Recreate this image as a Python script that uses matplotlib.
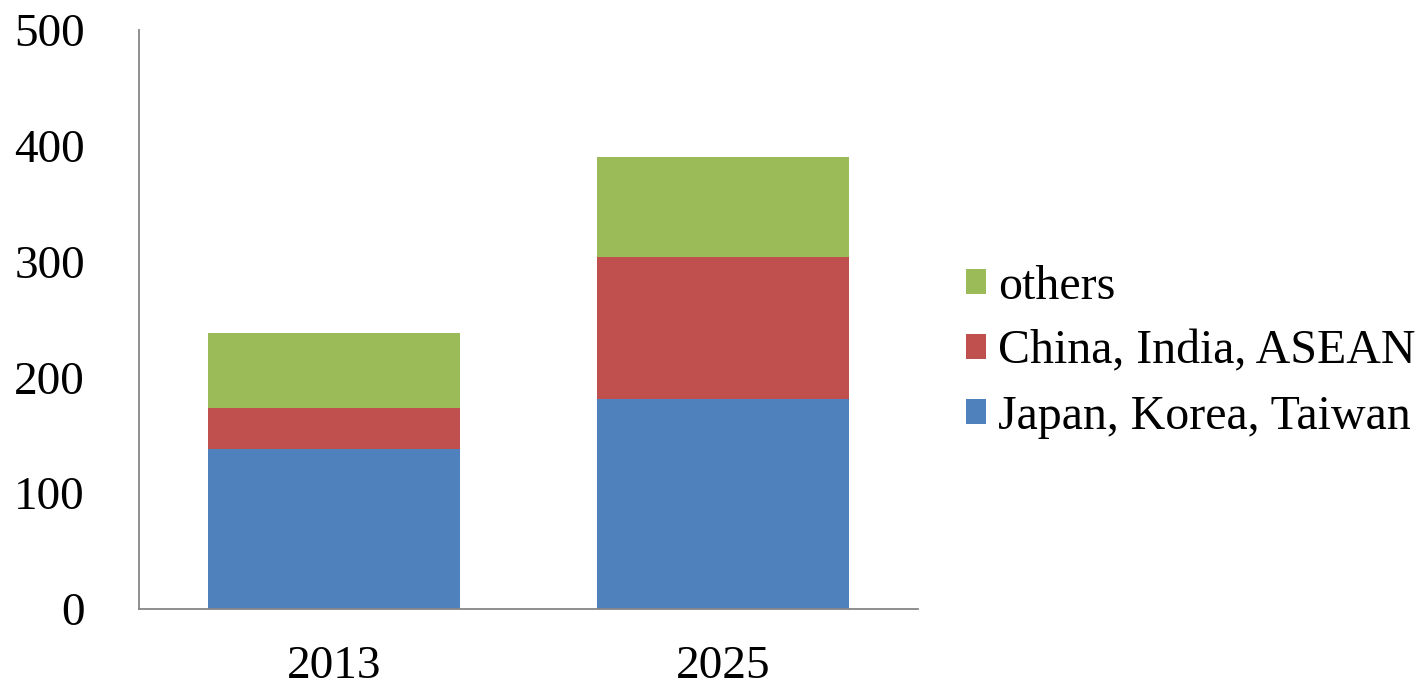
import numpy as np
import matplotlib.pyplot as plt

years = ["2013", "2025"]
japan_korea_taiwan = [138, 181]
china_india_asean = [35.5, 123]
others = [64.5, 86]

COLORS = {"jkt": "#4F81BD", "cia": "#C0504D", "oth": "#9BBB59"}

plt.rcParams.update({
    "font.family": ["Liberation Serif", "DejaVu Serif"],
    "font.size": 34,
})

fig = plt.figure(figsize=(14.27, 6.86), dpi=100)
ax = fig.add_axes([0.0974, 0.1122, 0.546, 0.8441])

x = np.arange(len(years))
w = 0.647
b1 = ax.bar(x, japan_korea_taiwan, w, color=COLORS["jkt"], edgecolor="none",
            label="Japan, Korea, Taiwan")
bottom2 = np.array(japan_korea_taiwan)
b2 = ax.bar(x, china_india_asean, w, bottom=bottom2, color=COLORS["cia"],
            edgecolor="none", label="China, India, ASEAN")
bottom3 = bottom2 + np.array(china_india_asean)
b3 = ax.bar(x, others, w, bottom=bottom3, color=COLORS["oth"],
            edgecolor="none", label="others")

ax.set_xlim(-0.5, 1.5)
ax.set_ylim(0, 500)
ax.set_yticks(range(0, 501, 100))
ax.set_xticks(x)
ax.set_xticklabels(years)
ax.tick_params(axis="y", length=0, pad=39)
ax.tick_params(axis="x", length=0, pad=26)
for s in ("top", "right"):
    ax.spines[s].set_visible(False)
for s in ("left", "bottom"):
    ax.spines[s].set_color("#868686")
    ax.spines[s].set_linewidth(1.3)

fig.legend(handles=[b3, b2, b1], loc="center left",
           bbox_to_anchor=(0.6465, 0.487), frameon=False,
           handlelength=0.42, handleheight=0.42, handletextpad=0.25,
           labelspacing=0.44, fontsize=34.5)

fig.savefig("out.png", dpi=100)
